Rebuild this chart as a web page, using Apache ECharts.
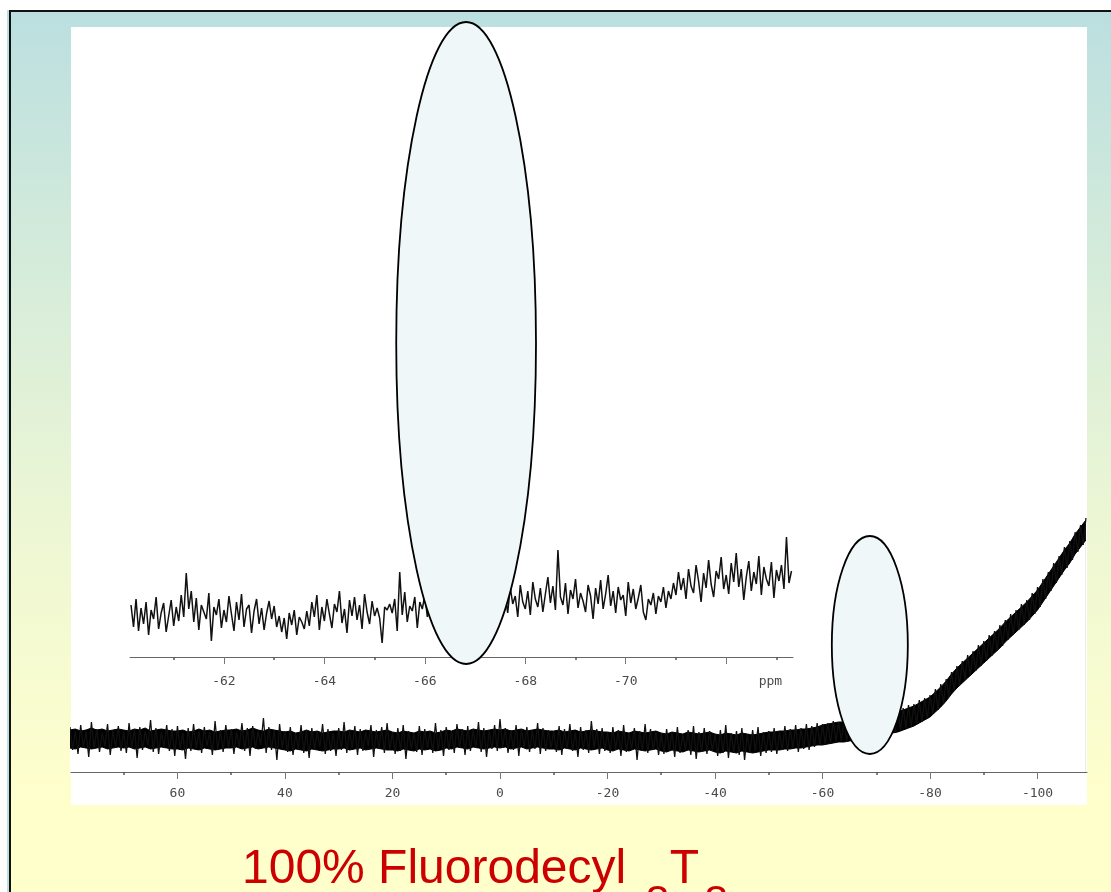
<!DOCTYPE html>
<html>
<head>
<meta charset="utf-8">
<script src="https://cdn.jsdelivr.net/npm/echarts@6/dist/echarts.min.js"></script>
<style>
html,body{margin:0;padding:0;width:1111px;height:892px;overflow:hidden;background:#fff;}
#slide{position:absolute;left:9px;top:10px;right:0;bottom:0;border-left:2px solid #111;border-top:2px solid #111;
  background:linear-gradient(to bottom,#BBDFE0 0%,#D6ECDA 30%,#EEF7D4 60%,#FFFFCC 90%,#FFFFCC 100%);box-shadow:-2px 0 0 #BCE0E0;}
#plot{position:absolute;left:71px;top:27px;width:1016px;height:778px;background:#fff;}
#chart{position:absolute;left:0;top:0;width:1111px;height:892px;}
#title{position:absolute;left:242px;top:839px;font-family:'Liberation Sans',Arial,sans-serif;font-size:48px;line-height:56px;color:#CC0000;white-space:nowrap;z-index:5;}
#title .s1{position:relative;top:34px;font-size:44px;margin-left:19px;}
#title .s2{position:relative;top:34px;font-size:44px;margin-left:5px;}
</style>
</head>
<body>
<div id="slide"></div>
<div id="plot"></div>
<div id="chart"></div>
<div id="title">100% Fluorodecyl<span class="s1">8</span>T<span class="s2">8</span></div>
<script>
// ---------- main spectrum ----------
// solid core of the trace, sampled every 1 ppm from 80 down to -109
var corePpmStart = 80, corePpmStep = -1;
var coreUpper = [
 42,43,41,42,44,42,43,41,42,43,
 42,41,43,42,44,41,42,43,42,41,
 41,42,40,41,43,41,42,40,41,42,
 42,43,41,42,44,42,41,43,42,41,
 40,41,39,40,42,40,41,39,40,41,
 41,40,42,41,40,42,41,40,41,42,
 40,39,41,40,39,41,40,41,39,40,
 42,41,43,42,41,43,42,41,42,43,
 42,43,41,42,43,41,42,43,42,41,
 41,42,40,41,42,40,41,42,41,40,
 40,39,41,40,39,41,40,39,40,41,
 39,38,40,39,38,40,39,38,39,40,
 38,37,39,38,37,39,38,37,38,39,
 40,40,41,41,42,42,43,43,44,45,
 47,48,49,50,50,51,52,53,54,55,
 56,57,58,59,60,62,64,66,69,72,
 75,80,85,91,98,104,109,114,119,124,
 129,134,139,144,150,155,160,165,170,176,
 182,190,198,206,214,222,229,238,245,252
];
var coreLower = [
 24,23,25,24,23,24,25,23,24,25,
 24,25,23,24,25,23,24,25,24,23,
 23,22,24,23,22,24,23,22,23,24,
 24,25,23,24,25,23,24,25,24,23,
 22,21,23,22,21,23,22,21,22,23,
 23,24,22,23,24,22,23,24,23,22,
 22,21,23,22,21,23,22,23,21,22,
 24,23,25,24,23,25,24,23,24,25,
 24,25,23,24,25,23,24,25,24,23,
 23,22,24,23,22,24,23,22,23,24,
 22,21,23,22,21,23,22,21,22,23,
 21,20,22,21,20,22,21,20,21,22,
 20,19,21,20,19,21,20,19,20,21,
 22,22,22,23,23,24,24,25,26,27,
 27,28,29,30,30,31,32,33,34,35,
 36,37,38,39,40,42,44,46,49,52,
 55,60,65,71,78,84,89,94,99,104,
 109,114,119,124,130,135,140,145,150,156,
 162,170,178,186,194,202,209,218,225,232
];
// noisy trace (spikes), sampled every 0.5 ppm from 80 down to -109
var tracePpmStart = 80, tracePpmStep = -0.5;
var traceValues = [
 45,22,41,18,47,25,40,15,50,23,43,20,39,26,48,17,42,24,46,21,
 40,19,49,24,43,14,45,22,41,27,52,20,44,18,40,25,47,21,43,16,
 46,23,39,13,44,21,48,24,41,19,45,26,40,17,51,22,42,20,47,24,
 43,18,40,25,49,21,44,16,46,23,41,27,54,19,45,22,42,12,48,24,
 41,20,45,17,39,23,47,19,42,14,44,22,40,25,48,18,43,21,39,16,
 44,22,50,19,41,24,46,17,43,21,40,26,47,15,42,23,45,19,49,22,
 40,18,44,21,47,13,41,23,39,20,46,17,43,24,40,19,49,22,42,16,
 45,22,41,19,48,25,43,17,46,21,42,24,50,20,44,15,41,23,47,21,
 53,24,44,19,42,22,47,16,43,25,45,20,41,23,49,18,44,21,42,24,
 41,20,46,17,43,23,48,21,40,15,45,22,42,19,51,24,43,18,44,21,
 40,19,45,22,42,16,47,20,39,23,44,12,41,21,48,19,43,22,40,17,
 39,18,43,21,40,15,45,19,38,22,42,17,46,13,40,20,44,18,41,21,
 38,16,42,19,47,14,39,20,41,17,44,12,38,19,42,21,45,16,40,19,
 41,20,44,18,40,22,46,21,43,24,47,20,44,23,48,22,46,25,49,27,
 48,28,49,29,51,30,50,31,52,30,53,32,54,33,56,34,55,35,57,36,
 58,37,59,38,61,39,60,40,63,42,64,44,67,45,68,48,72,50,74,53,
 77,58,83,62,88,68,93,75,100,81,106,87,111,92,117,96,121,101,127,106,
 131,111,137,116,141,121,147,126,152,132,158,137,162,142,168,147,172,152,179,158,
 185,165,193,173,200,181,209,189,216,197,225,204,231,212,240,220,247,227,254
];
var mainLabelValues = [60,40,20,0,-20,-40,-60,-80,-100];
var mainTickValues = [80,60,40,20,0,-20,-40,-60,-80,-100];
var mainMinorTickValues = [70,50,30,10,-10,-30,-50,-70,-90];

// ---------- inset (expanded region), sampled every 0.05 ppm from -60.15 ----------
var insetPpmStart = -60.15, insetPpmStep = -0.05;
var insetValues = [
 52,30,58,26,49,33,55,22,47,38,
 60,28,44,54,25,41,57,31,50,36,
 62,40,84,48,66,35,59,27,52,45,
 38,64,16,50,42,58,29,47,35,61,
 43,26,55,37,63,30,48,52,24,46,
 58,33,49,27,44,56,38,51,30,41,
 25,39,18,44,32,47,22,40,35,28,
 46,31,55,40,62,27,50,36,58,43,
 29,53,45,66,34,48,24,57,41,60,
 37,52,28,63,45,33,56,41,49,39,
 14,50,47,53,44,58,26,85,42,65,
 35,51,46,60,29,55,48,62,40,57,
 45,68,38,59,50,43,64,36,56,47,
 70,41,58,49,63,39,55,66,44,60,
 52,38,65,47,59,42,68,51,46,62,
 44,70,53,61,40,72,55,48,66,42,
 75,58,50,69,45,63,80,54,71,47,
 107,60,52,74,43,67,58,78,49,64,
 56,45,72,61,38,69,53,77,48,63,
 82,51,66,44,70,57,62,41,75,54,
 68,48,59,72,45,37,58,52,64,43,
 61,55,70,49,66,58,74,62,85,67,
 79,58,88,71,64,92,76,55,84,69,
 97,73,60,86,78,100,68,82,63,94,
 75,104,70,88,57,80,96,66,85,73,
 101,62,90,78,71,95,59,87,76,92,
 68,120,74,86
];
var insetLabelValues = [-62,-64,-66,-68,-70,-72.88];
var insetTickValues = [-62,-64,-66,-68,-70,-72];
var insetMinorTickValues = [-61,-63,-65,-67,-69,-71,-73];
var insetUnit = 'ppm';

// ---------- build series data ----------
function pairs(start, step, vals) {
  var out = [];
  for (var i = 0; i < vals.length; i++) out.push([+(start + step * i).toFixed(3), vals[i]]);
  return out;
}
var upperData = pairs(corePpmStart, corePpmStep, coreUpper);
var lowerData = pairs(corePpmStart, corePpmStep, coreLower);
var traceData = pairs(tracePpmStart, tracePpmStep, traceValues);
var insetData = pairs(insetPpmStart, insetPpmStep, insetValues);

var labelFont = { color: '#4a4a4a', fontFamily: 'DejaVu Sans Mono', fontSize: 13 };

var chart = echarts.init(document.getElementById('chart'), null, { renderer: 'canvas' });
var option = {
  animation: false,
  backgroundColor: 'transparent',
  grid: [
    { left: 71, right: 24, top: 27, bottom: 120 },
    { left: 71, right: 24, top: 27, bottom: 120 },
    { left: 130, right: 318, top: 497, bottom: 235 },
    { left: 130, right: 318, top: 497, bottom: 235 }
  ],
  xAxis: [
    { gridIndex: 0, type: 'value', inverse: true, min: -109.2, max: 79.8, z: 10,
      axisLine: { lineStyle: { color: '#666', width: 1 } },
      axisTick: { customValues: mainTickValues, length: 7, lineStyle: { color: '#777' } },
      axisLabel: Object.assign({ customValues: mainLabelValues, margin: 15 }, labelFont),
      splitLine: { show: false } },
    { gridIndex: 1, type: 'value', inverse: true, min: -109.2, max: 79.8, z: 10,
      axisLine: { show: false },
      axisTick: { customValues: mainMinorTickValues, length: 3, lineStyle: { color: '#555', width: 1.5 } },
      axisLabel: { show: false }, splitLine: { show: false } },
    { gridIndex: 2, type: 'value', inverse: true, min: -73.33, max: -60.13, z: 10,
      axisLine: { lineStyle: { color: '#666', width: 1 } },
      axisTick: { customValues: insetTickValues, length: 7, lineStyle: { color: '#777' } },
      axisLabel: Object.assign({ customValues: insetLabelValues, margin: 18,
        formatter: function (v) { return v < -72.5 ? insetUnit : String(v); } }, labelFont),
      splitLine: { show: false } },
    { gridIndex: 3, type: 'value', inverse: true, min: -73.33, max: -60.13, z: 10,
      axisLine: { show: false },
      axisTick: { customValues: insetMinorTickValues, length: 3, lineStyle: { color: '#555', width: 1.5 } },
      axisLabel: { show: false }, splitLine: { show: false } }
  ],
  yAxis: [
    { gridIndex: 0, type: 'value', min: 0, max: 745, show: false },
    { gridIndex: 1, type: 'value', min: 0, max: 745, show: false },
    { gridIndex: 2, type: 'value', min: 0, max: 160, show: false },
    { gridIndex: 3, type: 'value', min: 0, max: 160, show: false }
  ],
  series: [
    { type: 'line', xAxisIndex: 0, yAxisIndex: 0, data: upperData, showSymbol: false, silent: true, z: 2,
      lineStyle: { color: '#000', width: 1 }, areaStyle: { color: '#000', origin: 'start', opacity: 1 } },
    { type: 'line', xAxisIndex: 0, yAxisIndex: 0, data: lowerData, showSymbol: false, silent: true, z: 3,
      lineStyle: { color: '#000', width: 1 }, areaStyle: { color: '#fff', origin: 'start', opacity: 1 } },
    { type: 'line', xAxisIndex: 0, yAxisIndex: 0, data: traceData, showSymbol: false, silent: true, z: 4,
      lineStyle: { color: '#111', width: 1.3 } },
    { type: 'line', xAxisIndex: 2, yAxisIndex: 2, data: insetData, showSymbol: false, silent: true, z: 2,
      lineStyle: { color: '#111', width: 1.5 } }
  ]
};
chart.setOption(option);

// highlight ellipses, defined in main-spectrum units (ppm, intensity)
var ellipses = [
  { x: 6.3, y: 429, hw: 13.0, hh: 321 },
  { x: -68.8, y: 127, hw: 7.07, hh: 109 }
];
var gfx = ellipses.map(function (e) {
  var c = chart.convertToPixel({ gridIndex: 0 }, [e.x, e.y]);
  var r = chart.convertToPixel({ gridIndex: 0 }, [e.x + e.hw, e.y + e.hh]);
  return { type: 'ellipse', z: 100, silent: true,
    shape: { cx: c[0], cy: c[1], rx: Math.abs(r[0] - c[0]), ry: Math.abs(c[1] - r[1]) },
    style: { fill: '#EFF7F9', stroke: '#000', lineWidth: 1.8 } };
});
chart.setOption({ graphic: gfx });
</script>
</body>
</html>
